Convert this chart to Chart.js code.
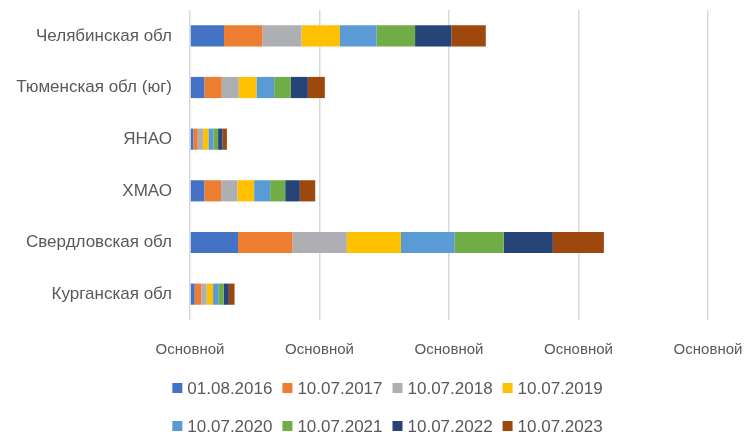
<!DOCTYPE html>
<html>
<head>
<meta charset="utf-8">
<script src="https://cdn.jsdelivr.net/npm/chart.js@4/dist/chart.umd.min.js"></script>
<style>
  html, body { margin: 0; padding: 0; background: #fff; }
</style>
</head>
<body>
<canvas id="chart" width="751" height="432"></canvas>
<script>
// regions, top to bottom
const categories = ['Челябинская обл', 'Тюменская обл (юг)', 'ЯНАО', 'ХМАО', 'Свердловская обл', 'Курганская обл'];
const seriesNames = ['01.08.2016', '10.07.2017', '10.07.2018', '10.07.2019', '10.07.2020', '10.07.2021', '10.07.2022', '10.07.2023'];

const s2016 = [26.3, 11.1, 2.6, 11.1, 37.1, 3.6];
const s2017 = [29.6, 13.4, 3.4, 12.9, 42.0, 5.2];
const s2018 = [30.2, 13.1, 4.1, 12.6, 42.0, 4.1];
const s2019 = [29.7, 13.7, 4.1, 12.9, 41.8, 4.9];
const s2020 = [28.3, 13.7, 3.9, 12.4, 41.5, 4.4];
const s2021 = [29.7, 12.9, 3.6, 11.6, 37.9, 3.9];
const s2022 = [28.1, 13.1, 3.4, 11.3, 37.9, 3.9];
const s2023 = [26.5, 13.1, 3.4, 11.9, 39.4, 4.4];

const tickLabels = ['Основной', 'Основной', 'Основной', 'Основной', 'Основной'];

const colors = ['#4472C4', '#ED7D31', '#AEAFB2', '#FFC000', '#5B9BD5', '#70AD47', '#264478', '#9E480E'];
const values = [s2016, s2017, s2018, s2019, s2020, s2021, s2022, s2023];

const FONT = '"Liberation Sans", Arial, sans-serif';
const TEXT = '#595959';

// legend drawn by hand: two rows of four, Excel-like spacing
const legendRows = {
    id: 'legendRows',
    afterDraw(chart) {
        const ctx = chart.ctx;
        const items = chart.data.datasets;
        const perRow = 4, box = 10, gap = 5, itemGap = 10;
        const rowY = [388, 426];
        ctx.save();
        ctx.font = '17px ' + FONT;
        ctx.textBaseline = 'middle';
        ctx.textAlign = 'left';
        for (let r = 0; r < rowY.length; r++) {
            const row = items.slice(r * perRow, r * perRow + perRow);
            const widths = row.map(d => box + gap + ctx.measureText(d.label).width);
            const total = widths.reduce((a, b) => a + b, 0) + itemGap * (row.length - 1);
            let x = (chart.width - total) / 2 + 12;
            row.forEach((d, i) => {
                ctx.fillStyle = d.backgroundColor;
                ctx.fillRect(x, rowY[r] - box / 2, box, box);
                ctx.fillStyle = TEXT;
                ctx.fillText(d.label, x + box + gap, rowY[r] + 1);
                x += widths[i] + itemGap;
            });
        }
        ctx.restore();
    }
};

new Chart(document.getElementById('chart'), {
    type: 'bar',
    data: {
        labels: categories,
        datasets: seriesNames.map((name, i) => ({
            label: name,
            data: values[i],
            backgroundColor: colors[i],
            borderWidth: 0,
            barPercentage: 0.41,
            categoryPercentage: 1
        }))
    },
    options: {
        indexAxis: 'y',
        responsive: false,
        animation: false,
        maintainAspectRatio: false,
        devicePixelRatio: 1,
        layout: { padding: { top: 10, right: 43, bottom: 0, left: 0 } },
        plugins: {
            legend: { display: false },
            tooltip: { enabled: false }
        },
        scales: {
            x: {
                stacked: true,
                min: 0,
                max: 400,
                afterFit(scale) {
                    scale.height = 112;
                    scale.paddingLeft = 0;
                    scale.paddingRight = 0;
                },
                border: { display: false },
                grid: { color: '#D9D9D9', lineWidth: 1.5, drawTicks: false },
                ticks: {
                    stepSize: 100,
                    padding: 21,
                    maxRotation: 0,
                    color: TEXT,
                    font: { family: FONT, size: 15 },
                    callback: (v, i) => tickLabels[i]
                }
            },
            y: {
                stacked: true,
                afterFit(scale) {
                    scale.width = 190;
                    scale.paddingTop = 0;
                    scale.paddingBottom = 0;
                },
                border: { display: false },
                grid: { display: false, drawTicks: false },
                ticks: {
                    padding: 18,
                    color: TEXT,
                    font: { family: FONT, size: 17 }
                }
            }
        }
    },
    plugins: [legendRows]
});
</script>
</body>
</html>
